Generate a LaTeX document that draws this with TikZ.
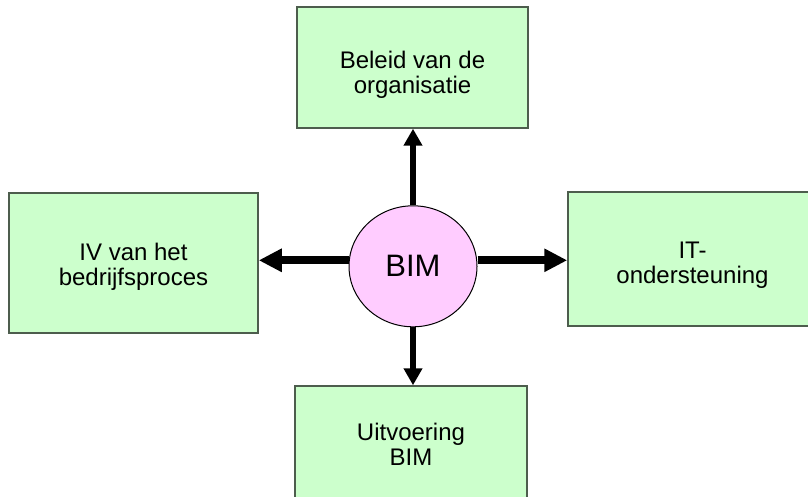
\documentclass[tikz,border=0pt]{standalone}
\usepackage{fontspec}
\setmainfont{Liberation Sans}
\usetikzlibrary{shapes,arrows.meta,positioning,calc}
\definecolor{areagreen}{HTML}{CCFFCC}
\definecolor{areaedge}{HTML}{4D5D4D}
\definecolor{bimpink}{HTML}{FFCCFF}

\begin{document}
\begin{tikzpicture}[
    x=0.5pt, y=-0.5pt,
    area/.style = {rectangle, draw=areaedge, line width=0.75pt, fill=areagreen, align=center, inner sep=0pt, font=\fontsize{12}{12.5}\selectfont},
    core/.style = {ellipse, draw, line width=0.5pt, fill=bimpink, minimum width=64pt, minimum height=60.5pt, inner sep=0pt, font=\fontsize{15.5}{18}\selectfont},
    varrow/.style = {line width=2.85pt, -{Triangle[length=8.5pt,width=9pt]}},
    harrow/.style = {line width=4pt, -{Triangle[length=11.5pt,width=11pt]}}
]
    \useasboundingbox (0,0) rectangle (808,497);

    % Centre
    \node[core] (bim) at (413,266.3) {BIM};

    % Areas around it
    \node[area, minimum width=115.5pt, minimum height=60.5pt, text height=28pt] (policy) at (412.5,67.5) {Beleid van de\\organisatie};
    \node[area, minimum width=124.5pt, minimum height=70pt, text height=25pt] (process) at (133.5,263) {IV van het\\bedrijfsproces};
    \node[area, minimum width=124.5pt, minimum height=67pt, text height=27pt] (support) at (692.5,259) {IT-\\ondersteuning};
    \node[area, minimum width=116pt, minimum height=58pt] (execution) at (411,444) {Uitvoering\\BIM};

    % Arrows
    \draw[varrow] (bim.north) -- (bim.north |- policy.south);
    \draw[varrow] (bim.south) -- (bim.south |- execution.north);
    \draw[harrow] ([yshift=3pt]bim.west) -- ([yshift=3pt]bim.west -| process.east);
    \draw[harrow] ([yshift=3pt]bim.east) -- ([yshift=3pt]bim.east -| support.west);

\end{tikzpicture}
\end{document}
